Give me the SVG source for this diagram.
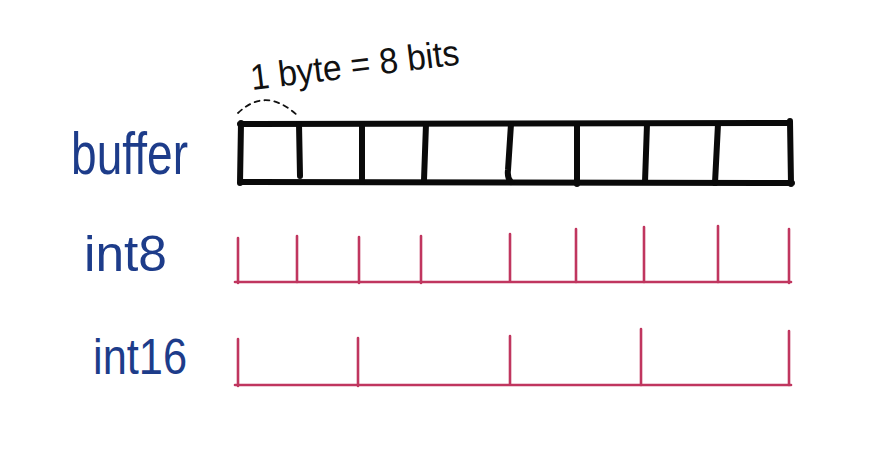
<svg xmlns="http://www.w3.org/2000/svg" width="872" height="463" viewBox="0 0 872 463">
  <style>
    .lbl { font-family: "Liberation Sans", Arial, sans-serif; fill: #1d3c8a; }
    .note { font-family: "Liberation Sans", Arial, sans-serif; fill: #111; }
    .box { fill: none; stroke: #0a0a0a; stroke-width: 6; stroke-linecap: round; stroke-linejoin: round; }
    .red { fill: none; stroke: #c0365f; stroke-width: 2.6; stroke-linecap: round; }
    .dash { fill: none; stroke: #111; stroke-width: 1.8; stroke-dasharray: 5 5; stroke-linecap: round; }
  </style>
  <rect width="872" height="463" fill="#ffffff"/>

  <g id="note-byte">
    <text class="note" x="252" y="90" font-size="36" textLength="210" lengthAdjust="spacingAndGlyphs" transform="rotate(-7 252 90)">1 byte = 8 bits</text>
  </g>

  <g id="label-buffer">
    <text class="lbl" x="71" y="174" font-size="60" textLength="117" lengthAdjust="spacingAndGlyphs">buffer</text>
  </g>
  <g id="label-int8">
    <text class="lbl" x="84" y="271" font-size="50" textLength="83" lengthAdjust="spacingAndGlyphs">int8</text>
  </g>
  <g id="label-int16">
    <text class="lbl" x="93" y="374" font-size="50" textLength="94" lengthAdjust="spacingAndGlyphs">int16</text>
  </g>

  <g id="buffer">
    <path class="box" d="M240,124 L790,123 M240,182 L792,183 M241,123 L240,183 M790,121 L791,184"/>
    <path class="box" d="M299,124 L300,176 M362,124 L362,182 M426,124 L424,180 M511,124 L508,170 Q507,178 511,182 M577,124 L577,184 M647,124 L645,182 M718,124 L715,183"/>
  </g>

  <g id="int8">
    <path class="red" d="M235,282 L791,282"/>
    <path class="red" d="M238,238 L238,283 M297,236 L297,282 M359,237 L359,283 M421,236 L421,283 M510,234 L510,281 M576,229 L576,282 M644,227 L644,282 M718,226 L718,282 M789,229 L789,283"/>
  </g>

  <g id="int16">
    <path class="red" d="M235,385 L791,385"/>
    <path class="red" d="M238,339 L238,386 M358,338 L358,386 M510,336 L510,384 M641,329 L641,385 M789,331 L789,385"/>
  </g>

  <g id="connectors">
    <path class="dash" d="M238,113 Q266,86 298,116"/>
  </g>
</svg>
